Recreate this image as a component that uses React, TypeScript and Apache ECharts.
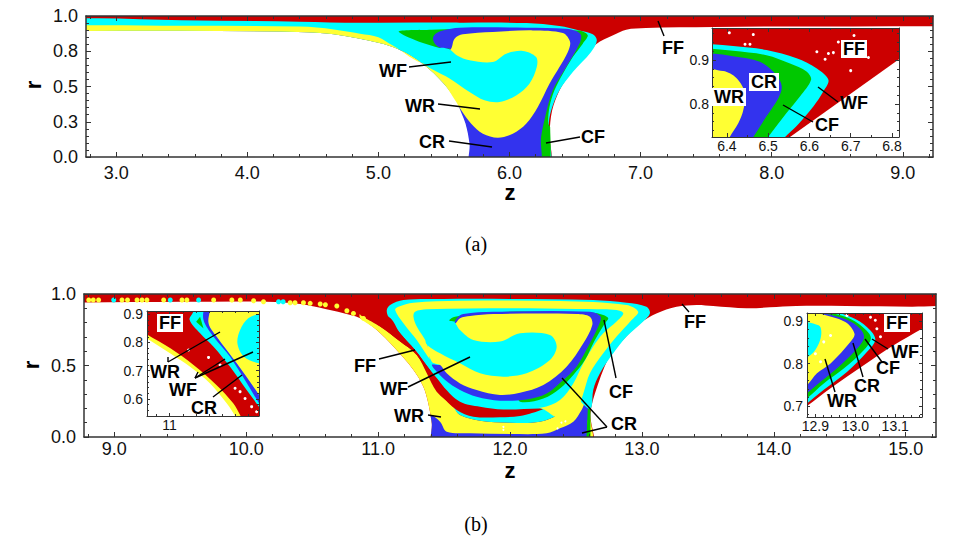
import React, { useEffect, useRef } from "react";
import * as echarts from "echarts";

const RED = "#cc0000", CYAN = "#00ffff", YELLOW = "#ffff33", BLUE = "#3333ee", GREEN = "#00c800", WHITE = "#ffffff";
const SANS = "Liberation Sans", SERIF = "Liberation Serif";

// ---- panel (a), main plot
const aZTicks = [3, 4, 5, 6, 7, 8, 9];
const aRTicks = [0, 0.25, 0.5, 0.75, 1];
const aSilhouette = [[2.6,1.1],[9.4,1.1],[9.4,.928],[9.23,.928],[8,.925],[7.55,.922],[7.04,.915],[6.89,.903],[6.79,.863],[6.66,.8],[6.546,.686],[6.445,.567],[6.38,.47],[6.325,.33],[6.305,.165],[6.297,-.08],[5.71,-.08],[5.705,.07],[5.67,.236],[5.61,.378],[5.5,.52],[5.34,.66],[5.16,.76],[5,.81],[4.66,.87],[4.45,.885],[3.5,.895],[2.77,.894],[2.6,.894]];
const aCyan = [[2.6,.975],[3.5,.97],[4.4,.96],[4.857,.952],[5.62,.953],[6.13,.95],[6.38,.929],[6.534,.898],[6.635,.87],[6.666,.827],[6.622,.745],[6.483,.603],[6.381,.473],[6.318,.331],[6.297,.213],[6.29,-.08],[5.71,-.08],[5.705,.07],[5.67,.236],[5.61,.378],[5.5,.52],[5.34,.66],[5.16,.76],[5,.81],[4.66,.87],[4.45,.885],[3.5,.895],[2.77,.894],[2.6,.894]];
const aGreen = [[5.156,.887],[5.403,.903],[5.62,.908],[6.127,.908],[6.483,.898],[6.546,.894],[6.597,.863],[6.559,.804],[6.483,.709],[6.407,.591],[6.343,.473],[6.305,.355],[6.295,.236],[6.31,.213],[6.3,-.08],[6.22,-.08],[6.127,.567],[5.873,.804],[5.543,.761]];
const aBlue = [[5.416,.839],[5.436,.875],[5.492,.898],[5.619,.917],[6.127,.917],[6.432,.91],[6.508,.894],[6.546,.863],[6.534,.804],[6.432,.638],[6.33,.473],[6.272,.284],[6.241,.142],[6.218,-.08],[5.708,-.08],[5.695,.095],[5.665,.236],[5.609,.378],[5.548,.761],[5.492,.768],[5.441,.792]];
const aYellow = [[2.6,.93],[3.5,.93],[4.4,.925],[4.66,.905],[4.86,.875],[5,.85],[5.11,.79],[5.365,.66],[5.548,.761],[5.581,.839],[5.644,.87],[5.873,.887],[6.178,.898],[6.407,.879],[6.462,.816],[6.445,.745],[6.381,.638],[6.305,.52],[6.216,.355],[6.127,.236],[6.025,.165],[5.911,.137],[5.797,.165],[5.708,.236],[5.632,.331],[5.594,.39],[5.5,.52],[5.34,.66],[5.16,.76],[5,.81],[4.66,.87],[4.45,.885],[3.5,.895],[2.77,.894],[2.6,.894]];
const aBlob = [[5.33,.68],[5.45,.77],[5.54,.765],[5.6,.72],[5.695,.686],[5.873,.674],[5.975,.733],[6.102,.752],[6.203,.709],[6.208,.638],[6.152,.52],[6.051,.437],[5.924,.39],[5.809,.402],[5.695,.461],[5.543,.556]];

// ---- panel (a), inset
const aiZTicks = [6.4, 6.5, 6.6, 6.7, 6.8];
const aiRTicks = [0.8, 0.9];
const aiRed = [[6.364,.973],[6.817,.973],[6.817,.902],[6.553,.725],[6.364,.725]];
const aiCyan = [[6.3,.938],[6.364,.936],[6.415,.932],[6.496,.923],[6.569,.904],[6.618,.881],[6.646,.855],[6.634,.829],[6.61,.795],[6.569,.75],[6.541,.725],[6.51,.69],[6.3,.69]];
const aiGreen = [[6.3,.928],[6.364,.926],[6.415,.921],[6.496,.911],[6.553,.892],[6.593,.874],[6.604,.855],[6.577,.817],[6.545,.78],[6.5,.725],[6.47,.69],[6.3,.69]];
const aiBlue = [[6.3,.917],[6.364,.915],[6.415,.909],[6.48,.896],[6.52,.866],[6.533,.84],[6.525,.814],[6.496,.772],[6.464,.725],[6.44,.69],[6.3,.69]];
const aiYellow = [[6.3,.875],[6.391,.875],[6.423,.859],[6.444,.825],[6.44,.787],[6.428,.757],[6.407,.725],[6.39,.69],[6.3,.69]];
const aiSpecks = [[6.406,.962],[6.444,.936],[6.456,.936],[6.464,.958],[6.618,.919],[6.658,.917],[6.646,.915],[6.708,.956],[6.638,.902],[6.7,.876],[6.743,.906],[6.67,.941]];

// ---- panel (b), main plot
const bZTicks = [9, 10, 11, 12, 13, 14, 15];
const bRTicks = [0, 0.5, 1];
const bSilhouette = [[8.6,1.1],[15.4,1.1],[15.4,.916],[15.23,.916],[15.05,.911],[14.55,.916],[14.17,.916],[13.97,.907],[13.793,.9],[13.54,.916],[13.414,.923],[13.263,.911],[13.11,.864],[12.985,.794],[12.833,.654],[12.745,.549],[12.644,.304],[12.61,.164],[12.61,-.08],[11.424,-.08],[11.407,.096],[11.381,.235],[11.343,.352],[11.268,.469],[11.116,.632],[10.99,.748],[10.864,.83],[10.79,.853],[10.6,.895],[10.41,.93],[10.157,.946],[9.5,.945],[8.77,.94],[8.6,.94]];
const bYellowLow = [[10.864,.86],[11.015,.772],[11.167,.667],[11.293,.573],[11.369,.445],[11.444,.317],[11.571,.212],[11.621,.154],[11.773,.114],[12,.1],[12.227,.107],[12.379,.166],[12.48,.282],[12.606,.329],[12.606,.164],[12.6,-.08],[11.424,-.08],[11.407,.096],[11.381,.235],[11.343,.352],[11.268,.469],[11.116,.632],[10.99,.748],[10.864,.83]];
const bBlueLow = [[11.402,.154],[11.47,.107],[11.52,.037],[11.697,.026],[12,.021],[12.278,.026],[12.379,.061],[12.48,.107],[12.543,.189],[12.581,.259],[12.606,.235],[12.588,.096],[12.588,-.08],[11.424,-.08],[11.407,.096]];
const bGreenLow = [[12.59,.2],[12.61,.2],[12.61,0],[12.58,0]];
const bCavity = [[11.066,.888],[11.091,.923],[11.192,.958],[11.495,.965],[12,.965],[12.631,.958],[12.884,.939],[13.035,.911],[13.061,.865],[13.01,.807],[12.884,.702],[12.783,.585],[12.682,.445],[12.631,.329],[12.619,.212],[12.593,.2],[12.48,.282],[12.379,.166],[12.227,.107],[12,.1],[11.773,.114],[11.621,.154],[11.571,.212],[11.495,.352],[11.394,.469],[11.28,.608],[11.167,.725],[11.078,.841]];
const bRedBand = [[11.078,.841],[11.167,.725],[11.28,.608],[11.394,.469],[11.495,.352],[11.621,.247],[11.773,.212],[11.949,.193],[12.227,.2],[12.247,.193],[12.076,.147],[11.924,.138],[11.722,.142],[11.596,.189],[11.47,.305],[11.394,.422],[11.293,.573],[11.167,.667],[11.015,.772],[10.864,.86]];
const bYellowRing = [[11.129,.888],[11.154,.911],[11.268,.939],[11.621,.953],[12.379,.951],[12.884,.923],[12.972,.876],[12.922,.818],[12.808,.702],[12.707,.585],[12.606,.445],[12.556,.305],[12.505,.189],[12.379,.131],[12.24,.2],[12,.247],[11.621,.329],[11.407,.527],[11.293,.678],[11.192,.795]];
const bCyanWide = [[11.268,.841],[11.28,.876],[11.369,.893],[12,.9],[12.505,.895],[12.808,.888],[12.859,.865],[12.808,.807],[12.707,.725],[12.631,.632],[12.556,.515],[12.48,.375],[12.379,.259],[12.24,.207],[12,.212],[11.747,.235],[11.571,.329],[11.407,.503],[11.369,.655],[11.293,.772]];
const bGreen = [[11.54,.814],[11.583,.841],[11.874,.874],[12.631,.869],[12.707,.853],[12.745,.83],[12.72,.795],[12.644,.678],[12.568,.538],[12.48,.434],[12.379,.34],[12.253,.27],[12.076,.247],[12.05,.329],[11.874,.562],[11.621,.795]];
const bBlue = [[11.583,.795],[11.596,.83],[11.646,.86],[11.874,.876],[12.606,.876],[12.687,.841],[12.669,.772],[12.593,.632],[12.505,.492],[12.404,.399],[12.278,.305],[12.126,.263],[11.924,.254],[11.747,.282],[11.621,.329],[11.508,.399],[11.407,.503],[11.47,.503],[11.874,.562],[11.672,.795]];
const bYellowLobe = [[11.588,.795],[11.621,.83],[11.697,.846],[11.874,.86],[12.505,.86],[12.606,.841],[12.624,.783],[12.556,.655],[12.429,.492],[12.253,.364],[12.076,.31],[11.924,.294],[11.747,.329],[11.621,.375],[11.52,.445],[11.47,.503],[11.407,.527],[11.381,.643]];
const bBlob = [[11.36,.665],[11.46,.77],[11.57,.805],[11.621,.748],[11.722,.678],[11.924,.667],[12.076,.725],[12.303,.713],[12.354,.632],[12.303,.538],[12.126,.445],[11.949,.422],[11.773,.445],[11.621,.515],[11.47,.585]];
const bEdgeYellowDots = [[8.806,.958],[8.84,.958],[8.881,.958],[9.058,.958],[9.1,.958],[9.172,.958],[9.21,.958],[9.247,.958],[9.374,.958],[9.513,.958],[9.55,.958],[9.753,.958],[9.891,.958],[9.955,.958],[10.056,.953],[10.131,.946],[10.333,.939],[10.37,.939],[10.434,.939],[10.485,.935],[10.561,.93],[10.6,.925],[10.687,.916],[10.763,.883],[10.813,.864],[10.889,.829]];
const bEdgeCyanDots = [[8.995,.958],[9.424,.958],[9.639,.958],[10.245,.946],[10.28,.946]];
const bSpecks = [[11.95,.07],[11.95,.05],[12.42,.11],[12.39,.1],[12.36,.06]];

// ---- panel (b), left inset
const biZTicks = [11];
const biRTicks = [0.6, 0.7, 0.8, 0.9];
const biCyan = [[11,.911],[11.34,.911],[11.34,.54],[11,.54]];
const biYellow = [[11.15,.95],[11.5,.95],[11.5,.4],[11.34,.614],[11.255,.726],[11.179,.82],[11.148,.867]];
const biBlob = [[11.5,.92],[11.34,.9],[11.299,.885],[11.268,.844],[11.258,.796],[11.283,.749],[11.34,.726],[11.5,.7]];
const biGreen = [[11.101,.873],[11.116,.891],[11.129,.849]];
const biBlue = [[11.135,.93],[11.129,.879],[11.167,.82],[11.23,.749],[11.34,.585],[11.45,.42],[11.45,.45],[11.34,.614],[11.255,.726],[11.179,.82],[11.148,.867],[11.154,.93]];
const biRed = [[10.8,1],[11.1,1],[11.091,.911],[11.076,.88],[11.116,.832],[11.167,.785],[11.23,.714],[11.293,.632],[11.34,.573],[11.45,.43],[11.45,.4],[10.8,.4]];
const biYellowBand = [[10.8,.89],[10.914,.828],[11.003,.779],[11.091,.72],[11.179,.649],[11.242,.585],[11.27,.54],[11.3,.48],[10.8,.4]];
const biOutside = [[10.8,.88],[10.914,.814],[11.003,.761],[11.078,.714],[11.154,.655],[11.217,.585],[11.249,.54],[11.28,.48],[10.8,.4]];
const biSpecks = [[11.148,.747],[11.249,.638],[11.268,.626],[11.312,.573],[11.192,.72],[11.072,.773],[11.331,.555],[11.287,.602]];

// ---- panel (b), right inset
const ciZTicks = [12.9, 13, 13.1];
const ciRTicks = [0.7, 0.8, 0.9];
const ciRed = [[12.8,1],[13.3,1],[13.3,.955],[13.167,.882],[13.096,.843],[13.021,.796],[12.937,.741],[12.879,.7],[12.8,.65]];
const ciCyan = [[12.8,1],[12.93,.93],[13,.905],[13.038,.878],[13.05,.855],[13.029,.827],[12.979,.78],[12.921,.738],[12.879,.706],[12.8,.65]];
const ciGreen = [[12.8,1],[12.91,.93],[12.988,.905],[13.028,.878],[13.039,.859],[13.021,.831],[12.971,.788],[12.921,.753],[12.879,.718],[12.8,.66]];
const ciBlue = [[12.8,1],[12.89,.93],[12.979,.903],[13.012,.882],[13.022,.862],[13.008,.839],[12.958,.792],[12.913,.757],[12.879,.73],[12.8,.67]];
const ciYellow = [[12.8,1],[12.88,.93],[12.975,.898],[12.998,.87],[12.988,.851],[12.938,.8],[12.904,.777],[12.879,.749],[12.8,.69]];
const ciBlob = [[12.8,.895],[12.908,.89],[12.913,.859],[12.888,.82],[12.8,.78]];
const ciSpecks = [[12.921,.851],[12.9,.823],[13.054,.882],[12.979,.913],[13.038,.909],[13.063,.863],[12.913,.804],[12.938,.866],[13.05,.902]];

function steps(min: number, max: number, step: number) {
  const out: number[] = [];
  const first = Math.ceil(min / step - 1e-9);
  for (let i = first; i * step <= max + 1e-9; i++) out.push(+(i * step).toFixed(4));
  return out;
}

const xAxes: any[] = [];
const yAxes: any[] = [];
const grids: any[] = [];
const series: any[] = [];

type Panel = {
  left: number; right: number; top: number; bottom: number;
  zRange: number[]; rRange: number[];
  zTicks: number[]; rTicks: number[];
  zMinor: number; rMinor: number;
  major: number; minor: number; lineW: number; font: number;
  zMargin: number; rMargin: number; axisZ: number; zDigits?: number;
};

function addPanel(p: Panel) {
  const g = grids.length;
  grids.push({ left: p.left, top: p.top, width: p.right - p.left, height: p.bottom - p.top, containLabel: false, show: false });
  const mk = (range: number[], pos: string, ticks: number[], len: number, labelled: boolean, lineShown: boolean, margin: number, digits: number) => ({
    type: "value", gridIndex: g, min: range[0], max: range[1], position: pos, z: p.axisZ, silent: true,
    splitLine: { show: false }, minorTick: { show: false },
    axisLine: { show: lineShown, onZero: false, lineStyle: { color: "#333", width: p.lineW } },
    axisTick: { show: true, inside: true, length: len, customValues: ticks, lineStyle: { color: "#333", width: 1 } },
    axisLabel: labelled
      ? { show: true, customValues: ticks, margin, fontFamily: SANS, fontSize: p.font, color: "#111", showMinLabel: true, showMaxLabel: true, hideOverlap: false,
          formatter: (v: number) => v.toFixed(digits) }
      : { show: false },
  });
  const zm = steps(p.zRange[0], p.zRange[1], p.zMinor);
  const rm = steps(p.rRange[0], p.rRange[1], p.rMinor);
  const zd = p.zDigits ?? 1;
  xAxes.push(mk(p.zRange, "bottom", p.zTicks, p.major, true, true, p.zMargin, zd));
  xAxes.push(mk(p.zRange, "bottom", zm, p.minor, false, false, 0, zd));
  xAxes.push(mk(p.zRange, "top", p.zTicks, p.major, false, true, 0, zd));
  xAxes.push(mk(p.zRange, "top", zm, p.minor, false, false, 0, zd));
  yAxes.push(mk(p.rRange, "left", p.rTicks, p.major, true, true, p.rMargin, 1));
  yAxes.push(mk(p.rRange, "left", rm, p.minor, false, false, 0, 1));
  yAxes.push(mk(p.rRange, "right", p.rTicks, p.major, false, true, 0, 1));
  yAxes.push(mk(p.rRange, "right", rm, p.minor, false, false, 0, 1));
  return g * 4;
}

function poly(axis: number, pts: number[][], fill: string, z: number, smooth = 0.33) {
  series.push({
    type: "custom", coordinateSystem: "cartesian2d", xAxisIndex: axis, yAxisIndex: axis, z, clip: true, silent: true,
    data: pts, encode: { x: 0, y: 1 },
    renderItem: (params: any, api: any) => {
      if (params.dataIndex !== 0) return null;
      return { type: "polygon", shape: { points: pts.map((q) => api.coord(q)), smooth }, style: { fill, stroke: null } };
    },
  });
}

function dots(axis: number, pts: number[][], color: string, size: number, z: number) {
  series.push({
    type: "scatter", xAxisIndex: axis, yAxisIndex: axis, z, clip: true, silent: true, symbol: "circle", symbolSize: size,
    data: pts, itemStyle: { color, opacity: 1 },
  });
}

function rect(range: number[], rrange: number[]) {
  return [[range[0], rrange[1]], [range[1], rrange[1]], [range[1], rrange[0]], [range[0], rrange[0]]];
}

// Panel (a) main
const A = addPanel({ left: 86, right: 933, top: 16, bottom: 157, zRange: [2.77, 9.23], rRange: [0, 1], zTicks: aZTicks, rTicks: aRTicks, zMinor: 0.2, rMinor: 0.05, major: 5, minor: 3, lineW: 1.5, font: 18, zMargin: 7, rMargin: 8, axisZ: 6 });
poly(A, aSilhouette, RED, 2); poly(A, aCyan, CYAN, 2); poly(A, aGreen, GREEN, 2); poly(A, aBlue, BLUE, 2); poly(A, aYellow, YELLOW, 2); poly(A, aBlob, CYAN, 2);

// Panel (b) main
const B = addPanel({ left: 84, right: 936, top: 294, bottom: 437, zRange: [8.77, 15.23], rRange: [0, 1], zTicks: bZTicks, rTicks: bRTicks, zMinor: 0.2, rMinor: 0.1, major: 5, minor: 3, lineW: 1.5, font: 18, zMargin: 3, rMargin: 8, axisZ: 6 });
poly(B, bSilhouette, RED, 2); dots(B, bEdgeYellowDots, YELLOW, 5, 3); dots(B, bEdgeCyanDots, CYAN, 5, 3);
poly(B, bYellowLow, YELLOW, 3); poly(B, bBlueLow, BLUE, 3); poly(B, bGreenLow, GREEN, 3, 0); poly(B, bCavity, CYAN, 3); poly(B, bRedBand, RED, 3); poly(B, bYellowRing, YELLOW, 3); poly(B, bCyanWide, CYAN, 3); poly(B, bGreen, GREEN, 3); poly(B, bBlue, BLUE, 3); poly(B, bYellowLobe, YELLOW, 3); poly(B, bBlob, CYAN, 3); dots(B, bSpecks, WHITE, 2, 4);

// Panel (a) inset
const aiZR = [6.364, 6.817], aiRR = [0.725, 0.973];
const AI = addPanel({ left: 712, right: 899, top: 28, bottom: 137, zRange: aiZR, rRange: aiRR, zTicks: aiZTicks, rTicks: aiRTicks, zMinor: 0.05, rMinor: 0.02, major: 4, minor: 2, lineW: 1, font: 14, zMargin: 2, rMargin: 3, axisZ: 12 });
poly(AI, rect(aiZR, aiRR), WHITE, 10, 0); poly(AI, aiRed, RED, 10, 0); poly(AI, aiCyan, CYAN, 10); poly(AI, aiGreen, GREEN, 10); poly(AI, aiBlue, BLUE, 10); poly(AI, aiYellow, YELLOW, 10); dots(AI, aiSpecks, WHITE, 3, 11);

// Panel (b) left inset
const biZR = [10.914, 11.34], biRR = [0.54, 0.911];
const BI = addPanel({ left: 147, right: 259, top: 311, bottom: 416, zRange: biZR, rRange: biRR, zTicks: biZTicks, rTicks: biRTicks, zMinor: 0.05, rMinor: 0.02, major: 3, minor: 2, lineW: 1, font: 14, zMargin: 2, rMargin: 4, axisZ: 12, zDigits: 0 });
poly(BI, rect(biZR, biRR), WHITE, 10, 0); poly(BI, biCyan, CYAN, 10, 0); poly(BI, biYellow, YELLOW, 10); poly(BI, biBlob, CYAN, 10); poly(BI, biGreen, GREEN, 10, 0); poly(BI, biBlue, BLUE, 10); poly(BI, biRed, RED, 10); poly(BI, biYellowBand, YELLOW, 10); poly(BI, biOutside, WHITE, 10); dots(BI, biSpecks, WHITE, 3, 11);

// Panel (b) right inset
const ciZR = [12.879, 13.167], ciRR = [0.674, 0.919];
const CI = addPanel({ left: 807, right: 922, top: 313, bottom: 417, zRange: ciZR, rRange: ciRR, zTicks: ciZTicks, rTicks: ciRTicks, zMinor: 0.02, rMinor: 0.02, major: 3, minor: 2, lineW: 1, font: 14, zMargin: 2, rMargin: 4, axisZ: 12 });
poly(CI, rect(ciZR, ciRR), WHITE, 10, 0); poly(CI, ciRed, RED, 10); poly(CI, ciCyan, CYAN, 10); poly(CI, ciGreen, GREEN, 10); poly(CI, ciBlue, BLUE, 10); poly(CI, ciYellow, YELLOW, 10); poly(CI, ciBlob, CYAN, 10); dots(CI, ciSpecks, WHITE, 3, 11);

const label = (text: string, x: number, y: number, boxed = false) => ({
  type: "text", z: 30, silent: true, x, y,
  style: { text, fontFamily: SANS, fontWeight: "bold", fontSize: 18, fill: "#000", align: "center", verticalAlign: "middle",
    ...(boxed ? { backgroundColor: "#fff", padding: [0, 2] } : {}) },
});
const leader = (x1: number, y1: number, x2: number, y2: number) => ({
  type: "line", z: 30, silent: true, shape: { x1, y1, x2, y2 }, style: { stroke: "#000", lineWidth: 1.4 },
});

const annotations: any[] = [
  // panel (a)
  label("WF", 393, 71), leader(409, 67, 451, 62),
  label("WR", 420, 106), leader(438, 104, 480, 109),
  label("CR", 432, 142), leader(449, 141, 492, 147),
  label("CF", 593, 137), leader(580, 137, 546, 143),
  label("FF", 673, 48), leader(658, 21, 664, 36),
  label("FF", 854, 49, true), label("CR", 764, 82, true), label("WR", 729, 97, true),
  label("WF", 854, 103), leader(818, 87, 838, 102),
  label("CF", 827, 125), leader(783, 105, 813, 122),
  // panel (b)
  label("FF", 365, 366), leader(379, 359, 415, 350),
  label("WF", 394, 389), leader(408, 387, 470, 357),
  label("WR", 409, 416), leader(428, 415, 441, 417),
  label("FF", 695, 322), leader(682, 304, 689, 312),
  label("CF", 621, 392), leader(604, 320, 616, 378),
  label("CR", 624, 424), leader(607, 427, 562, 378), leader(607, 427, 582, 433),
  label("FF", 170, 323, true), label("WR", 165, 372), label("WF", 183, 390), label("CR", 204, 408),
  leader(168, 362, 220, 332), leader(168, 357, 168, 362),
  leader(195, 378, 253, 352), leader(195, 378, 225, 359), leader(195, 378, 198, 372),
  leader(213, 397, 242, 375),
  label("FF", 897, 323, true), label("WF", 905, 352), label("CF", 888, 368), label("CR", 867, 386), label("WR", 842, 401),
  leader(888, 349, 872, 339), leader(882, 362, 865, 339), leader(863, 377, 853, 343), leader(835, 392, 825, 359),
  // axis titles and captions
  { type: "text", z: 30, x: 510, y: 192, style: { text: "z", fontFamily: SANS, fontWeight: "bold", fontSize: 22, fill: "#000", align: "center", verticalAlign: "middle" } },
  { type: "text", z: 30, x: 510, y: 470, style: { text: "z", fontFamily: SANS, fontWeight: "bold", fontSize: 22, fill: "#000", align: "center", verticalAlign: "middle" } },
  { type: "text", z: 30, x: 33, y: 85, rotation: Math.PI / 2, style: { text: "r", fontFamily: SANS, fontWeight: "bold", fontSize: 22, fill: "#000", align: "center", verticalAlign: "middle" } },
  { type: "text", z: 30, x: 31, y: 365, rotation: Math.PI / 2, style: { text: "r", fontFamily: SANS, fontWeight: "bold", fontSize: 22, fill: "#000", align: "center", verticalAlign: "middle" } },
  { type: "text", z: 30, x: 476, y: 244, style: { text: "(a)", fontFamily: SERIF, fontSize: 20, fill: "#000", align: "center", verticalAlign: "middle" } },
  { type: "text", z: 30, x: 476, y: 524, style: { text: "(b)", fontFamily: SERIF, fontSize: 20, fill: "#000", align: "center", verticalAlign: "middle" } },
];

export default function App() {
  const ref = useRef<HTMLDivElement>(null);
  useEffect(() => {
    const chart = echarts.init(ref.current!, undefined, { renderer: "svg" });
    chart.setOption({
      animation: false,
      backgroundColor: "#ffffff",
      grid: grids,
      xAxis: xAxes,
      yAxis: yAxes,
      series,
      graphic: { z: 30, elements: annotations },
    });
    return () => chart.dispose();
  }, []);
  return <div ref={ref} style={{ position: "absolute", left: 0, top: 0, width: 953, height: 546 }} />;
}
